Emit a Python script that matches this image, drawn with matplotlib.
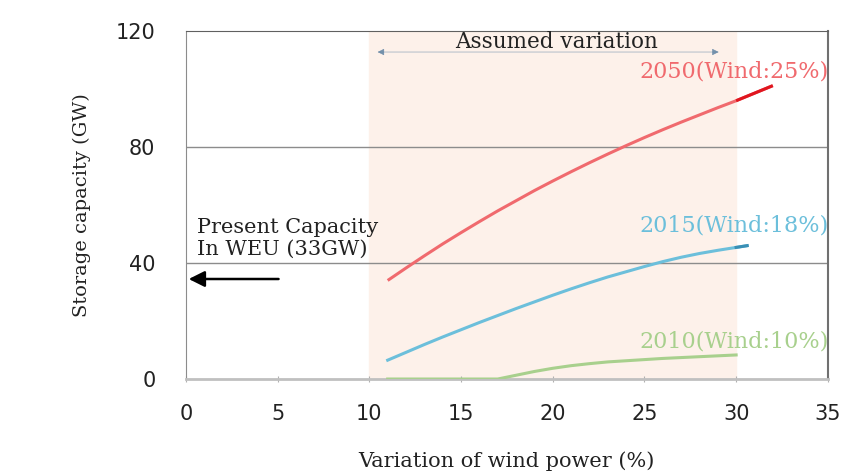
import numpy as np
import matplotlib.pyplot as plt

# values
x_2050 = [11, 12, 13, 14, 15, 16, 17, 18, 19, 20, 21, 22, 23, 24, 25, 26, 27, 28, 29, 30, 31, 32]
y_2050 = [34, 38.3, 42.5, 46.6, 50.5, 54.3, 58, 61.5, 65, 68.3, 71.5, 74.6, 77.6,
          80.5, 83.3, 86, 88.6, 91.1, 93.6, 96, 98.6, 101.2]

x_2015 = [11, 12, 13, 14, 15, 16, 17, 18, 19, 20, 21, 22, 23, 24, 25, 26, 27, 28, 29, 30, 30.6]
y_2015 = [6.5, 9.2, 11.9, 14.5, 17, 19.5, 21.9, 24.3, 26.6, 28.9, 31.1, 33.2, 35.2,
          37, 38.8, 40.5, 42, 43.3, 44.4, 45.4, 46]

x_2010 = [11, 13, 15, 17, 18, 19, 20, 21, 22, 23, 24, 25, 26, 27, 28, 29, 30]
y_2010 = [0, 0, 0, 0, 1.3, 2.6, 3.7, 4.6, 5.3, 5.9, 6.3, 6.7, 7.1, 7.4, 7.7, 8, 8.3]

labels = ['2050(Wind:25%)', '2015(Wind:18%)', '2010(Wind:10%)']
colors = ['#f06a6e', '#6cbfdb', '#a8d08d']
label_y = [106, 53, 12.8]

present_cap = 34.5
assumed = (10, 30)

fig = plt.figure(figsize=(8.43, 4.72), dpi=100)
ax = fig.add_axes([0.2206, 0.197, 0.7614, 0.737])

ax.axvspan(assumed[0], assumed[1], color='#fdf1ea', zorder=0)
for yy in [40, 80]:
    ax.axhline(yy, color='#8c8c8c', lw=1, zorder=1)

ax.plot(x_2050, y_2050, color=colors[0], lw=2.2, zorder=3, solid_capstyle='butt')
ax.plot(x_2050[-3:], y_2050[-3:], color='#e0161f', lw=2.2, zorder=3, solid_capstyle='butt')
ax.plot(x_2015, y_2015, color=colors[1], lw=2.2, zorder=3)
ax.plot(x_2015[-2:], y_2015[-2:], color='#3a8fb5', lw=2.2, zorder=3)
ax.plot(x_2010, y_2010, color=colors[2], lw=2.2, zorder=3)

for lab, c, yy in zip(labels, colors, label_y):
    ax.text(35.05, yy, lab, color=c, ha='right', va='center',
            family='DejaVu Serif', fontsize=16, zorder=4)

# assumed variation arrow
ax.annotate('', xy=(10.3, 112.8), xytext=(29.2, 112.8),
            arrowprops=dict(arrowstyle='<|-|>', color='#5a7fa0', lw=0.4,
                            mutation_scale=10, alpha=0.8), zorder=2)
ax.text(20.2, 116.3, 'Assumed variation', ha='center', va='center',
        family='DejaVu Serif', fontsize=15.5, color='#222222')

# present capacity arrow
ax.annotate('', xy=(0, present_cap), xytext=(5.2, present_cap),
            arrowprops=dict(arrowstyle='-|>', color='black', lw=1.8,
                            mutation_scale=24))
ax.text(0.6, 48.5, 'Present Capacity\nIn WEU (33GW)', ha='left', va='center',
        family='DejaVu Serif', fontsize=15, color='#222222', linespacing=1.2)

ax.set_xlim(0, 35)
ax.set_ylim(0, 120)
ax.set_xticks(np.arange(0, 36, 5))
ax.set_yticks([0, 40, 80, 120])
ax.tick_params(axis='both', labelsize=15, colors='#222222', length=4, direction='inout')
ax.tick_params(axis='x', color='#b0b0b0', pad=16)
ax.tick_params(axis='y', length=0, pad=22)
for lab in ax.get_xticklabels() + ax.get_yticklabels():
    lab.set_family('DejaVu Sans')

ax.spines['left'].set_color('#8c8c8c')
ax.spines['top'].set_color('#606060')
ax.spines['right'].set_color('#707070')
ax.spines['right'].set_linewidth(1.5)
ax.spines['bottom'].set_color('#c0c0c0')
ax.spines['bottom'].set_linewidth(2)

ax.set_xlabel('Variation of wind power (%)', family='DejaVu Serif', fontsize=15,
              labelpad=20, color='#222222')
ax.set_ylabel('Storage capacity (GW)', family='DejaVu Serif', fontsize=14,
              labelpad=18, color='#222222')

fig.savefig('out.png', dpi=100)
